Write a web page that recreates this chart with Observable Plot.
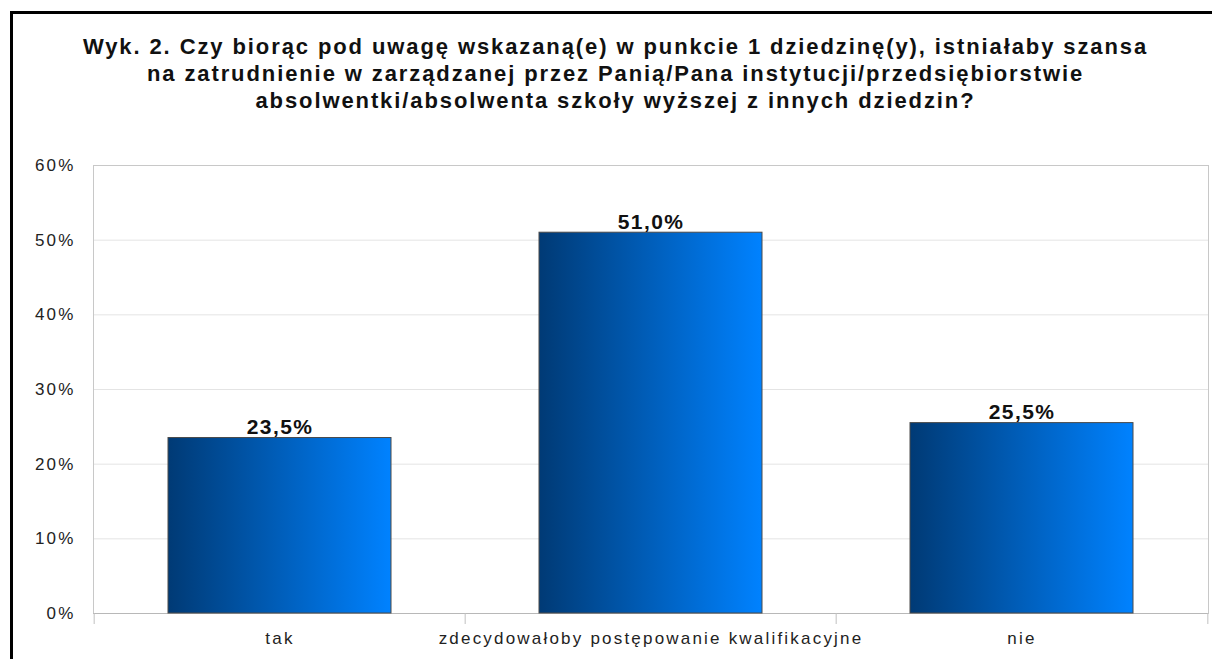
<!DOCTYPE html>
<html>
<head>
<meta charset="utf-8">
<script src="https://cdn.jsdelivr.net/npm/d3@7"></script>
<script src="https://cdn.jsdelivr.net/npm/@observablehq/plot@0.6"></script>
<style>
  html, body { margin: 0; padding: 0; background: #fff; }
  #wrap { position: relative; width: 1212px; height: 659px; overflow: hidden; font-family: "Liberation Sans", Arial, sans-serif; }
  #frame { position: absolute; left: 10px; top: 11px; width: 1300px; height: 800px; border-top: 3px solid #000; border-left: 3px solid #000; }
  #title { position: absolute; left: 13px; top: 33px; width: 1205px; text-align: center; font-weight: bold; font-size: 22px; line-height: 27px; letter-spacing: 1.9px; color: #111; }
  #chart { position: absolute; left: 0; top: 0; }
</style>
</head>
<body>
<div id="wrap">
  <div id="chart"></div>
  <div id="frame"></div>
  <div id="title">Wyk. 2. Czy biorąc pod uwagę wskazaną(e) w punkcie 1 dziedzinę(y), istniałaby szansa<br>na zatrudnienie w zarządzanej przez Panią/Pana instytucji/przedsiębiorstwie<br>absolwentki/absolwenta szkoły wyższej z innych dziedzin?</div>
</div>
<script>
const categories = ["tak", "zdecydowałoby postępowanie kwalifikacyjne", "nie"];
const values = [23.5, 51.0, 25.5];
const yTicks = [0, 10, 20, 30, 40, 50, 60];

const data = categories.map((c, i) => ({category: c, value: values[i]}));

const W = 1212, H = 659;
const mL = 93, mR = 4, mT = 165, mB = 46;
const step = (W - mL - mR) / categories.length;

const chart = Plot.plot({
  width: W,
  height: H,
  marginLeft: mL,
  marginRight: mR,
  marginTop: mT,
  marginBottom: mB,
  style: {fontFamily: "'Liberation Sans', Arial, sans-serif", background: "transparent", overflow: "visible"},
  x: {domain: categories, paddingInner: 0.4, paddingOuter: 0.2, label: null},
  y: {domain: [0, 60], label: null},
  marks: [
    Plot.gridY(yTicks, {stroke: "#e4e4e4", strokeOpacity: 1, strokeWidth: 1}),
    Plot.frame({stroke: "#c8c8c8"}),
    Plot.ruleY([0], {stroke: "#b8b8b8"}),
    Plot.ruleX(categories, {x: d => d, dx: -step / 2, y1: 0, y2: 0, insetBottom: -11, stroke: "#c0c0c0"}),
    Plot.ruleX(categories.slice(-1), {x: d => d, dx: step / 2, y1: 0, y2: 0, insetBottom: -11, stroke: "#c0c0c0"}),
    Plot.barY(data, {x: "category", y: "value", fill: "url(#barGrad)", stroke: "#4a4a4a", strokeWidth: 1}),
    Plot.text(data, {x: "category", y: "value", text: d => d.value.toFixed(1).replace(".", ",") + "%", lineAnchor: "bottom", dy: -4, dx: 0, fontWeight: "bold", fontSize: 21, fill: "#111"}),
    Plot.axisY(yTicks, {tickFormat: d => d + "%", tickSize: 0, tickPadding: 18, fontSize: 17, fill: "#222"}),
    Plot.axisX({tickSize: 0, tickPadding: 18, fontSize: 17, fill: "#222"})
  ]
});

const svg = d3.select(chart);
const defs = svg.insert("defs", ":first-child");
const g = defs.append("linearGradient").attr("id", "barGrad").attr("x1", "0%").attr("x2", "100%").attr("y1", "0%").attr("y2", "0%");
g.append("stop").attr("offset", "0%").attr("stop-color", "#003a75");
g.append("stop").attr("offset", "100%").attr("stop-color", "#0082ff");
svg.selectAll("[aria-label='y-axis tick label'] text").style("letter-spacing", "2.2px");
svg.selectAll("[aria-label='x-axis tick label'] text").style("letter-spacing", "2.2px");
svg.selectAll("[aria-label='text'] text").style("letter-spacing", "1.4px");

document.getElementById("chart").appendChild(chart);
</script>
</body>
</html>
